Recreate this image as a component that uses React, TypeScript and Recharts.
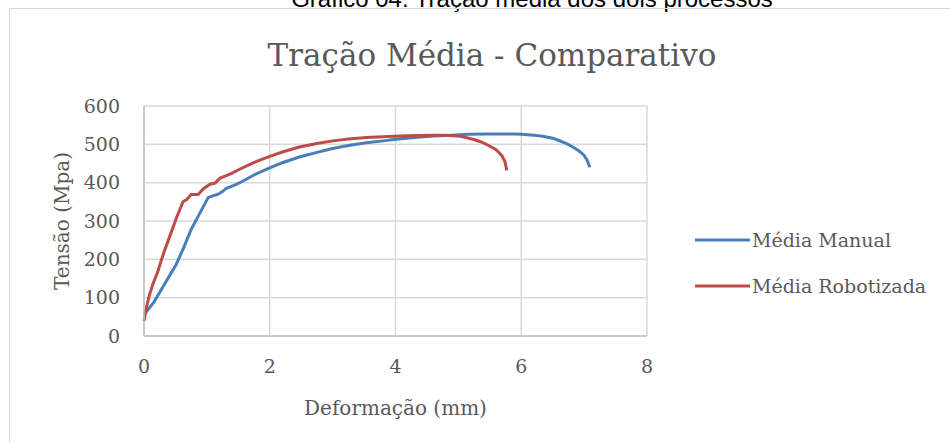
import React from 'react';
import { LineChart, Line, XAxis, YAxis, CartesianGrid } from 'recharts';

const manualX = [0, 0.08, 0.16, 0.3, 0.43, 0.51, 0.63, 0.75, 0.88, 1.02, 1.1, 1.18, 1.24, 1.31, 1.45, 1.56, 1.75, 1.99, 2.2, 2.47, 2.75, 3.0, 3.25, 3.54, 3.8, 4.01, 4.3, 4.62, 4.9, 5.15, 5.45, 5.69, 5.9, 6.01, 6.2, 6.34, 6.5, 6.6, 6.72, 6.82, 6.92, 7.0, 7.05, 7.09];
const manualY = [55, 72, 89, 128, 164, 186, 230, 278, 318, 361, 366, 370, 376, 385, 394, 403, 420, 438, 452, 467, 479, 489, 497, 504, 509, 513, 518, 522, 524, 526, 527, 527, 527, 526, 524, 521, 516, 510, 502, 493, 483, 471, 458, 440];

const roboX = [0, 0.04, 0.08, 0.14, 0.21, 0.32, 0.43, 0.52, 0.62, 0.68, 0.75, 0.86, 0.95, 1.05, 1.13, 1.21, 1.3, 1.4, 1.52, 1.66, 1.8, 1.99, 2.2, 2.47, 2.75, 3.0, 3.25, 3.54, 3.8, 4.08, 4.35, 4.62, 4.8, 4.99, 5.12, 5.26, 5.38, 5.48, 5.6, 5.69, 5.74, 5.77];
const roboY = [39, 75, 103, 135, 164, 220, 269, 310, 350, 356, 369, 369, 385, 396, 399, 412, 418, 425, 435, 446, 456, 468, 480, 493, 502, 509, 514, 518, 520, 522, 523, 524, 524, 522, 518, 512, 505, 497, 486, 471, 455, 432];

const xTicks = [0, 2, 4, 6, 8];
const yTicks = [0, 100, 200, 300, 400, 500, 600];

const seriesNames = ['Média Manual', 'Média Robotizada'];
const seriesColors = ['#4A7EBB', '#BE4B48'];

const manualData = manualX.map((x, i) => ({ x, y: manualY[i] }));
const roboData = roboX.map((x, i) => ({ x, y: roboY[i] }));

const serif = '"DejaVu Serif", serif';
const textColor = '#595959';

export default function App() {
  return (
    <div style={{ position: 'fixed', left: 0, top: 0, width: 950, height: 443, background: '#fff', overflow: 'hidden' }}>
      <div style={{ position: 'absolute', left: 0, width: 1064, top: -14, textAlign: 'center', fontFamily: '"Liberation Sans", Arial, sans-serif', fontSize: 24, color: '#000', lineHeight: '26px', whiteSpace: 'nowrap' }}>
        Gráfico 04: Tração média dos dois processos
      </div>
      <div style={{ position: 'absolute', left: 9, top: 8, width: 1000, height: 500, border: '1.5px solid #d9d9d9', borderBottom: 'none', borderRight: 'none' }} />
      <div style={{ position: 'absolute', left: 0, width: 984, top: 36, textAlign: 'center', fontFamily: serif, fontSize: 31, color: textColor, lineHeight: '38px', whiteSpace: 'nowrap' }}>
        Tração Média - Comparativo
      </div>
      <div style={{ position: 'absolute', left: 0, top: 0 }}>
        <LineChart width={950} height={443} margin={{ top: 106, right: 303, bottom: 47, left: 0 }}>
          <CartesianGrid stroke="#d9d9d9" strokeWidth={1.5} />
          <XAxis
            type="number"
            dataKey="x"
            domain={[0, 8]}
            ticks={xTicks}
            height={60}
            tickSize={0}
            tickMargin={24}
            axisLine={{ stroke: '#bfbfbf', strokeWidth: 1.5 }}
            tick={{ fill: textColor, fontFamily: serif, fontSize: 19 }}
            label={{ value: 'Deformação (mm)', position: 'insideBottom', offset: -19, fill: textColor, fontFamily: serif, fontSize: 20 }}
          />
          <YAxis
            type="number"
            domain={[0, 600]}
            ticks={yTicks}
            width={144}
            tickSize={0}
            tickMargin={24}
            axisLine={{ stroke: '#bfbfbf', strokeWidth: 1.5 }}
            tick={{ fill: textColor, fontFamily: serif, fontSize: 19 }}
            label={{ value: 'Tensão (Mpa)', angle: -90, position: 'center', dx: -10, fill: textColor, fontFamily: serif, fontSize: 20 }}
          />
          <Line data={manualData} dataKey="y" name={seriesNames[0]} stroke={seriesColors[0]} strokeWidth={3} dot={false} type="linear" isAnimationActive={false} />
          <Line data={roboData} dataKey="y" name={seriesNames[1]} stroke={seriesColors[1]} strokeWidth={3} dot={false} type="linear" isAnimationActive={false} />
        </LineChart>
      </div>
      {seriesNames.map((name, i) => (
        <div key={name} style={{ position: 'absolute', left: 695, top: 228 + i * 46, height: 24, display: 'flex', alignItems: 'center', fontFamily: serif, fontSize: 19, color: textColor, whiteSpace: 'nowrap' }}>
          <svg width={55} height={6} style={{ marginRight: 2 }}>
            <line x1={1} y1={3} x2={54} y2={3} stroke={seriesColors[i]} strokeWidth={3} strokeLinecap="round" />
          </svg>
          <span>{name}</span>
        </div>
      ))}
    </div>
  );
}
